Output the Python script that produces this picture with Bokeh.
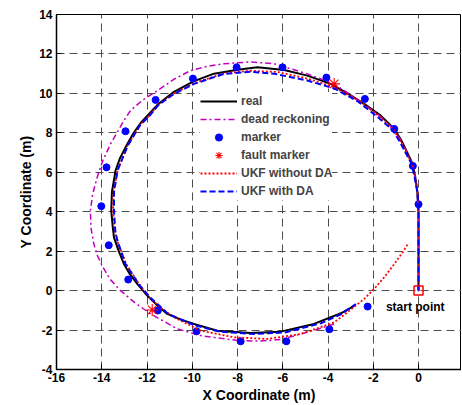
from bokeh.plotting import figure
from bokeh.models import Range1d, FixedTicker, Legend, LegendItem
from bokeh.core.properties import value
from bokeh.embed import file_html
from bokeh.resources import INLINE

# ---------------- data ----------------
real_x = [0, 0, 0, -0.05, -0.15, -0.25, -0.48, -0.75, -1.07, -1.7, -2.4, -3.14, -3.88, -4.91, -5.94,
          -7.12, -8.0, -9.04, -9.92, -10.81, -11.54, -11.92, -12.28, -12.6, -12.87, -13.2, -13.39,
          -13.55, -13.58, -13.52, -13.46, -13.25, -13.02, -12.75, -12.43, -11.99, -11.55, -11.1,
          -10.5, -9.92, -8.89, -7.42, -6.09, -4.62, -3.43, -2.84]
real_y = [0, 2, 4, 5.0, 5.8, 6.4, 6.95, 7.6, 8.2, 8.9, 9.47, 10.0, 10.48, 10.9, 11.19,
          11.32, 11.2, 11.0, 10.62, 10.08, 9.42, 8.95, 8.5, 7.98, 7.44, 6.7, 6.09,
          5.0, 4.06, 3.3, 2.7, 2.0, 1.35, 0.82, 0.34, -0.25, -0.75, -1.18,
          -1.47, -1.69, -2.03, -2.15, -2.08, -1.69, -1.15, -0.78]

dr_x = [0, 0, 0, -0.05, -0.15, -0.28, -0.5, -0.8, -1.1, -1.8, -2.84, -3.73, -4.91, -6.38, -7.42,
        -8.6, -9.3, -10.07, -10.8, -11.54, -12.2, -12.73, -13.02, -13.61, -13.95, -14.2, -14.4,
        -14.5, -14.48, -14.35, -14.2, -14.0, -13.65, -13.17, -12.55, -11.84, -10.66, -9.63, -8.74,
        -7.86, -7.0, -6.09, -4.91, -4.3, -3.73]
dr_y = [0, 2, 4, 5.0, 5.8, 6.45, 7.0, 7.65, 8.2, 8.95, 9.8, 10.48, 10.99, 11.5, 11.6,
        11.5, 11.38, 11.16, 10.72, 10.14, 9.65, 9.13, 8.62, 7.44, 6.6, 5.75, 4.9,
        4.06, 3.2, 2.37, 1.8, 1.3, 0.6, 0.0, -0.6, -1.18, -1.94, -2.28, -2.42,
        -2.54, -2.56, -2.48, -2.11, -1.9, -1.69]

marker_x = [0.0, -0.25, -1.07, -2.37, -4.07, -6.01, -8.04, -9.97, -11.62, -12.95, -13.79, -14.02,
            -13.69, -12.83, -11.52, -9.81, -7.86, -5.84, -3.94, -2.25]
marker_y = [4.38, 6.32, 8.2, 9.72, 10.8, 11.32, 11.32, 10.75, 9.67, 8.08, 6.25, 4.28,
            2.3, 0.56, -1.01, -2.06, -2.57, -2.57, -1.96, -0.81]

fault_x = [-3.73, -11.77]
fault_y = [10.48, -0.98]

nda_x = [0, 0, 0, -0.05, -0.16, -0.28, -0.52, -0.8, -1.12, -1.75, -2.6, -3.8, -4.91, -6.2, -7.42,
         -8.6, -9.92, -10.81, -11.5, -11.9, -12.3, -12.85, -13.3, -13.48, -13.5, -13.42, -13.28,
         -12.9, -12.3, -11.84, -11.3, -10.81, -9.63, -8.15, -6.68, -5.2, -3.73, -3.14, -2.4, -1.96,
         -1.52, -1.07, -0.7, -0.44]
nda_y = [0, 2, 4, 5.0, 5.8, 6.4, 6.95, 7.6, 8.18, 8.85, 9.6, 10.35, 10.75, 11.08, 11.15,
         11.02, 10.52, 10.0, 9.42, 8.88, 8.4, 7.38, 6.1, 5.0, 4.06, 3.0, 2.4,
         1.3, 0.25, -0.42, -0.95, -1.35, -2.03, -2.37, -2.45, -2.2, -1.61, -1.1, -0.42, 0.09,
         0.67, 1.35, 1.94, 2.42]

da_x = [0, 0, 0, -0.05, -0.18, -0.3, -0.55, -0.85, -1.15, -1.8, -2.69, -3.73, -4.91, -6.38, -7.42,
        -8.6, -9.92, -10.81, -11.5, -11.9, -12.3, -12.85, -13.3, -13.46, -13.46, -13.4, -13.3,
        -12.95, -12.35, -11.9, -11.05, -9.9, -8.8, -7.27, -5.9, -4.32, -3.43, -2.77]
da_y = [0, 2, 4, 5.0, 5.8, 6.4, 6.95, 7.6, 8.15, 8.8, 9.6, 10.25, 10.65, 11.0, 11.1,
        10.99, 10.48, 9.97, 9.4, 8.85, 8.4, 7.35, 6.1, 5.0, 4.06, 3.0, 2.5,
        1.35, 0.3, -0.3, -1.2, -1.75, -2.08, -2.2, -2.12, -1.66, -1.2, -0.68]

start_x = [0.0]
start_y = [0.0]
start_label = ["start point"]
start_label_x = [-1.44]
start_label_y = [-0.85]

x_ticks = [-16, -14, -12, -10, -8, -6, -4, -2, 0, 2]
y_ticks = [-4, -2, 0, 2, 4, 6, 8, 10, 12, 14]

series_labels = ["real", "dead reckoning", "marker", "fault marker", "UKF without DA", "UKF with DA"]

# ---------------- figure ----------------
FONT = "Liberation Sans"
p = figure(width=461, height=405, x_range=Range1d(-16, 1.9), y_range=Range1d(-4, 14),
           output_backend="svg", toolbar_location=None,
           min_border_left=56, min_border_right=0, min_border_top=14, min_border_bottom=36)
p.background_fill_color = "white"
p.border_fill_color = "white"
p.outline_line_color = "black"
p.outline_line_width = 1
p.outline_line_alpha = 1

for ax, ticks, label in ((p.xaxis, x_ticks, "X Coordinate (m)"), (p.yaxis, y_ticks, "Y Coordinate (m)")):
    ax.ticker = FixedTicker(ticks=ticks)
    ax.major_label_overrides = {t: str(t) for t in ticks}
    ax.axis_label = label
    ax.axis_label_text_font = FONT
    ax.axis_label_text_font_style = "bold"
    ax.axis_label_text_font_size = "14px"
    ax.major_label_text_font = FONT
    ax.major_label_text_font_style = "bold"
    ax.major_label_text_font_size = "12px"
    ax.major_label_text_color = "black"
    ax.axis_label_text_color = "black"
    ax.major_tick_in = 5
    ax.major_tick_out = 0
    ax.minor_tick_in = 0
    ax.minor_tick_out = 0
    ax.axis_line_width = 1.5
    ax.major_tick_line_width = 1

p.xaxis.major_label_standoff = 3
p.xaxis.axis_label_standoff = 2
p.yaxis.major_label_standoff = 4
p.yaxis.axis_label_standoff = 2

p.grid.grid_line_color = "#4d4d4d"
p.grid.grid_line_dash = "8 5"
p.grid.grid_line_width = 1

r_real = p.line(real_x, real_y, line_color="black", line_width=2)
r_dr = p.line(dr_x, dr_y, line_color="#c000c0", line_width=1.5, line_dash="6 3 2 3")
r_mk = p.scatter(marker_x, marker_y, size=7, fill_color="blue", line_color="blue")
r_ft = p.scatter(fault_x, fault_y, marker="asterisk", size=12, line_color="red", line_width=1.1)
r_nda = p.line(nda_x, nda_y, line_color="red", line_width=1.8, line_dash="2 2")
r_da = p.line(da_x, da_y, line_color="blue", line_width=2, line_dash="6 3")
p.scatter(start_x, start_y, marker="square", size=9, fill_color=None, line_color="red", line_width=1.5)
p.text(x=start_label_x, y=start_label_y, text=start_label, text_font=value(FONT),
       text_font_style="bold", text_font_size="12px", text_baseline="middle", text_align="left",
       text_color="black")

legend = Legend(items=[LegendItem(label=lab, renderers=[r]) for lab, r in
                       zip(series_labels, [r_real, r_dr, r_mk, r_ft, r_nda, r_da])],
                location=(144, 169))
legend.background_fill_color = "white"
legend.background_fill_alpha = 1
legend.border_line_color = None
legend.label_text_font = FONT
legend.label_text_font_style = "bold"
legend.label_text_font_size = "12px"
legend.glyph_width = 37
legend.glyph_height = 18
legend.label_height = 18
legend.spacing = 0
legend.padding = 3
legend.margin = 0
legend.label_standoff = 4
p.add_layout(legend)

open("out.html", "w").write(file_html(p, INLINE))
